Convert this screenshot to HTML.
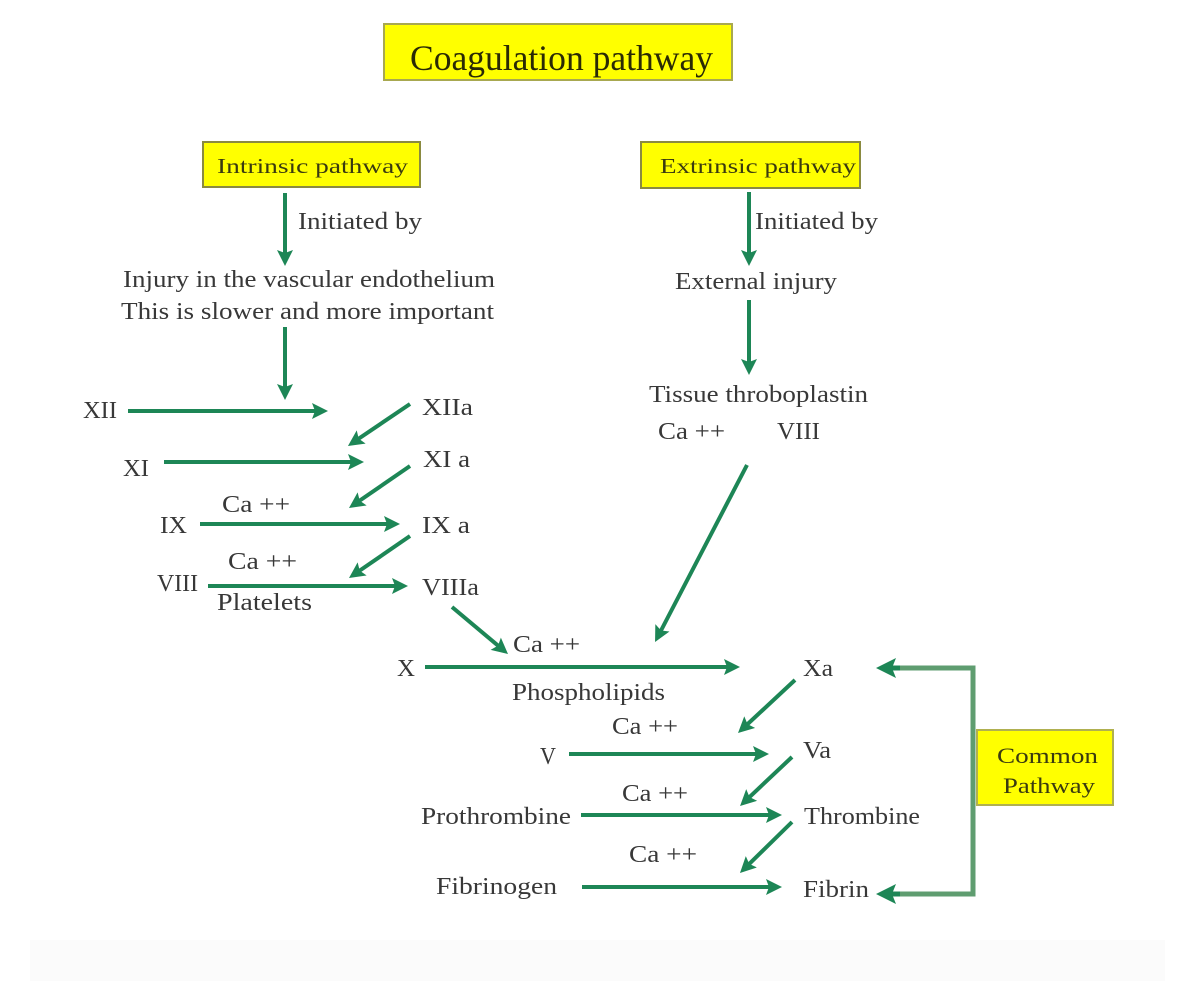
<!DOCTYPE html>
<html>
<head>
<meta charset="utf-8">
<style>
html,body{margin:0;padding:0;background:#fff;}
svg{display:block;}
text{font-family:"Liberation Serif","DejaVu Serif",serif;}
</style>
</head>
<body>
<svg width="1200" height="981" viewBox="0 0 1200 981" xmlns="http://www.w3.org/2000/svg">
<defs>
<marker id="ah" viewBox="0 0 18 16" refX="7" refY="8" markerWidth="18" markerHeight="16" markerUnits="userSpaceOnUse" orient="auto">
<path d="M0,0 L16,8 L0,16 L3,8 z" fill="#1d8656"/>
</marker>
<marker id="ah2" viewBox="0 0 22 20" refX="8" refY="10" markerWidth="22" markerHeight="20" markerUnits="userSpaceOnUse" orient="auto">
<path d="M0,0 L20,10 L0,20 L4,10 z" fill="#1d8656"/>
</marker>
</defs>
<rect x="0" y="0" width="1200" height="981" fill="#ffffff"/>
<rect x="30" y="940" width="1135" height="41" fill="#fbfbfb"/>

<!-- Title -->
<rect x="384" y="24" width="348" height="56" fill="#ffff00" stroke="#a8a850" stroke-width="2"/>
<text x="410" y="70" font-size="36" fill="#2a2a05" textLength="303" lengthAdjust="spacingAndGlyphs">Coagulation pathway</text>

<!-- Intrinsic box -->
<rect x="203" y="142" width="217" height="45" fill="#ffff00" stroke="#8a8a40" stroke-width="2"/>
<text x="217" y="173" font-size="21" fill="#3a3a10" textLength="191" lengthAdjust="spacingAndGlyphs">Intrinsic pathway</text>

<!-- Extrinsic box -->
<rect x="641" y="142" width="219" height="46" fill="#ffff00" stroke="#8a8a40" stroke-width="2"/>
<text x="660" y="173" font-size="21" fill="#3a3a10" textLength="196" lengthAdjust="spacingAndGlyphs">Extrinsic pathway</text>

<!-- Common pathway box -->
<rect x="977" y="730" width="136" height="75" fill="#ffff00" stroke="#b0b050" stroke-width="2"/>
<text x="997" y="763" font-size="22" fill="#3a3a10" textLength="101" lengthAdjust="spacingAndGlyphs">Common</text>
<text x="1003" y="793" font-size="22" fill="#3a3a10" textLength="92" lengthAdjust="spacingAndGlyphs">Pathway</text>

<g fill="#383838" font-size="24">
<text x="298" y="229" textLength="124" lengthAdjust="spacingAndGlyphs">Initiated by</text>
<text x="123" y="287" textLength="372" lengthAdjust="spacingAndGlyphs">Injury in the vascular endothelium</text>
<text x="121" y="319" textLength="373" lengthAdjust="spacingAndGlyphs">This is slower and more important</text>
<text x="755" y="229" textLength="123" lengthAdjust="spacingAndGlyphs">Initiated by</text>
<text x="675" y="289" textLength="162" lengthAdjust="spacingAndGlyphs">External injury</text>
<text x="649" y="402" textLength="219" lengthAdjust="spacingAndGlyphs">Tissue throboplastin</text>
<text x="658" y="439" textLength="67" lengthAdjust="spacingAndGlyphs">Ca ++</text>
<text x="777" y="439" textLength="43" lengthAdjust="spacingAndGlyphs">VIII</text>

<text x="83" y="418" textLength="34" lengthAdjust="spacingAndGlyphs">XII</text>
<text x="422" y="415" textLength="51" lengthAdjust="spacingAndGlyphs">XIIa</text>
<text x="123" y="476" textLength="26" lengthAdjust="spacingAndGlyphs">XI</text>
<text x="423" y="467" textLength="47" lengthAdjust="spacingAndGlyphs">XI a</text>
<text x="222" y="512" textLength="68" lengthAdjust="spacingAndGlyphs">Ca ++</text>
<text x="160" y="533" textLength="27" lengthAdjust="spacingAndGlyphs">IX</text>
<text x="422" y="533" textLength="48" lengthAdjust="spacingAndGlyphs">IX a</text>
<text x="228" y="569" textLength="69" lengthAdjust="spacingAndGlyphs">Ca ++</text>
<text x="157" y="591" textLength="41" lengthAdjust="spacingAndGlyphs">VIII</text>
<text x="422" y="595" textLength="57" lengthAdjust="spacingAndGlyphs">VIIIa</text>
<text x="217" y="610" textLength="95" lengthAdjust="spacingAndGlyphs">Platelets</text>

<text x="513" y="652" textLength="67" lengthAdjust="spacingAndGlyphs">Ca ++</text>
<text x="397" y="676" textLength="18" lengthAdjust="spacingAndGlyphs">X</text>
<text x="512" y="700" textLength="153" lengthAdjust="spacingAndGlyphs">Phospholipids</text>
<text x="803" y="676" textLength="30" lengthAdjust="spacingAndGlyphs">Xa</text>

<text x="612" y="734" textLength="66" lengthAdjust="spacingAndGlyphs">Ca ++</text>
<text x="540" y="764" textLength="16" lengthAdjust="spacingAndGlyphs">V</text>
<text x="803" y="758" textLength="28" lengthAdjust="spacingAndGlyphs">Va</text>
<text x="622" y="801" textLength="66" lengthAdjust="spacingAndGlyphs">Ca ++</text>
<text x="421" y="824" textLength="150" lengthAdjust="spacingAndGlyphs">Prothrombine</text>
<text x="804" y="824" textLength="116" lengthAdjust="spacingAndGlyphs">Thrombine</text>
<text x="629" y="862" textLength="68" lengthAdjust="spacingAndGlyphs">Ca ++</text>
<text x="436" y="894" textLength="121" lengthAdjust="spacingAndGlyphs">Fibrinogen</text>
<text x="803" y="897" textLength="66" lengthAdjust="spacingAndGlyphs">Fibrin</text>
</g>

<g stroke="#1d8656" stroke-width="4" fill="none" marker-end="url(#ah)">
<!-- verticals -->
<line x1="285" y1="193" x2="285" y2="257"/>
<line x1="285" y1="327" x2="285" y2="391"/>
<line x1="749" y1="192" x2="749" y2="257"/>
<line x1="749" y1="300" x2="749" y2="366"/>
<!-- intrinsic horizontals -->
<line x1="128" y1="411" x2="319" y2="411"/>
<line x1="164" y1="462" x2="355" y2="462"/>
<line x1="200" y1="524" x2="391" y2="524"/>
<line x1="208" y1="586" x2="399" y2="586"/>
<!-- diagonals -->
<line x1="410" y1="404" x2="355.4" y2="440.9"/>
<line x1="410" y1="466" x2="356.4" y2="502.9"/>
<line x1="410" y1="536" x2="356.4" y2="572.9"/>
<line x1="452" y1="607" x2="501.1" y2="648.2"/>
<line x1="747" y1="465" x2="659.2" y2="634.0"/>
<!-- X -->
<line x1="425" y1="667" x2="731" y2="667"/>
<line x1="795" y1="680" x2="744.6" y2="726.9"/>
<line x1="569" y1="754" x2="760" y2="754"/>
<line x1="792" y1="757" x2="746.6" y2="799.8"/>
<line x1="581" y1="815" x2="773" y2="815"/>
<line x1="792" y1="822" x2="746.4" y2="866.7"/>
<line x1="582" y1="887" x2="773" y2="887"/>
</g>

<!-- common pathway bracket -->
<polyline points="890,668 973,668 973,894 890,894" stroke="#5f9d70" stroke-width="5" fill="none"/>
<g stroke="#1d8656" stroke-width="5" fill="none" marker-end="url(#ah2)">
<line x1="900" y1="668" x2="888" y2="668"/>
<line x1="900" y1="894" x2="888" y2="894"/>
</g>
</svg>
</body>
</html>
